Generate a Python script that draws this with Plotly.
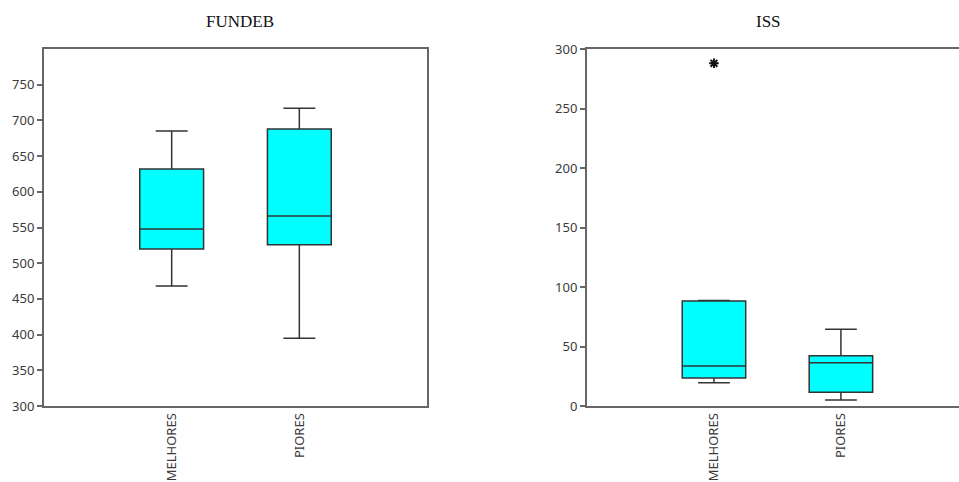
import plotly.graph_objects as go

categories = ["MELHORES", "PIORES"]

# FUNDEB box statistics
fundeb_low = [468, 395]
fundeb_q1 = [520, 526]
fundeb_med = [548, 566]
fundeb_q3 = [632, 688]
fundeb_high = [685, 717]

# ISS box statistics
iss_low = [19.6, 5.0]
iss_q1 = [23.5, 11.5]
iss_med = [33.6, 36.4]
iss_q3 = [88.3, 42.3]
iss_high = [88.6, 64.5]
iss_outlier_cat = ["MELHORES"]
iss_outlier_val = [288]

fundeb_ticks = [300, 350, 400, 450, 500, 550, 600, 650, 700, 750]
iss_ticks = [0, 50, 100, 150, 200, 250, 300]

W, H = 959, 482
line_col = "#333333"
fill_col = "#00FFFF"
axis_col = "#666666"

fig = go.Figure()

fig.add_trace(go.Box(
    x=categories, q1=fundeb_q1, median=fundeb_med, q3=fundeb_q3,
    lowerfence=fundeb_low, upperfence=fundeb_high,
    fillcolor=fill_col, line=dict(color=line_col, width=1.5),
    width=0.5, whiskerwidth=0.5, boxpoints=False,
    xaxis="x", yaxis="y", showlegend=False, hoverinfo="skip"))

fig.add_trace(go.Box(
    x=categories, q1=iss_q1, median=iss_med, q3=iss_q3,
    lowerfence=iss_low, upperfence=iss_high,
    fillcolor=fill_col, line=dict(color=line_col, width=1.5),
    width=0.5, whiskerwidth=0.5, boxpoints=False,
    xaxis="x2", yaxis="y2", showlegend=False, hoverinfo="skip"))

fig.add_trace(go.Scatter(
    x=iss_outlier_cat, y=iss_outlier_val, mode="markers",
    marker=dict(symbol="asterisk-open", size=8, color="#111111",
                line=dict(color="#111111", width=2)),
    xaxis="x2", yaxis="y2", showlegend=False, hoverinfo="skip"))

tick_font = dict(family="Noto Sans, Open Sans, sans-serif", size=13, color="#3a3a3a")

xdom1 = [44 / W, 427 / W]
xdom2 = [587 / W, 1.0]
ydom = [(H - 406) / H, (H - 49) / H]

common_x = dict(type="category", categoryorder="array", categoryarray=categories,
                showline=True, linecolor=axis_col, linewidth=2, mirror=True,
                ticks="", tickangle=-90, tickfont=tick_font, showgrid=False,
                zeroline=False, automargin=False)

title_font = dict(family="Liberation Serif, serif", size=17, color="#111111")

fig.update_layout(
    width=W, height=H,
    margin=dict(l=0, r=0, t=0, b=0),
    paper_bgcolor="white", plot_bgcolor="white",
    xaxis=dict(domain=xdom1, range=[-1, 2], anchor="y", **common_x),
    yaxis=dict(domain=ydom, range=[300, 800], tickvals=fundeb_ticks,
               showline=True, linecolor=axis_col, linewidth=2, mirror=True,
               ticks="outside", ticklen=5, tickcolor=axis_col, tickwidth=1.5,
               tickfont=tick_font, showgrid=False, zeroline=False,
               automargin=False, anchor="x"),
    xaxis2=dict(domain=xdom2, range=[-1, 1.93], anchor="y2", **common_x),
    yaxis2=dict(domain=ydom, range=[0, 300], tickvals=iss_ticks,
                showline=True, linecolor=axis_col, linewidth=2, mirror=False,
                ticks="outside", ticklen=5, tickcolor=axis_col, tickwidth=1.5,
                tickfont=tick_font, showgrid=False, zeroline=False,
                automargin=False, anchor="x2"),
    annotations=[
        dict(text="FUNDEB", x=240 / W, y=(H - 22) / H, xref="paper", yref="paper",
             xanchor="center", yanchor="middle", showarrow=False, font=title_font),
        dict(text="ISS", x=768 / W, y=(H - 22) / H, xref="paper", yref="paper",
             xanchor="center", yanchor="middle", showarrow=False, font=title_font),
    ],
)

fig.write_html("out.html")
